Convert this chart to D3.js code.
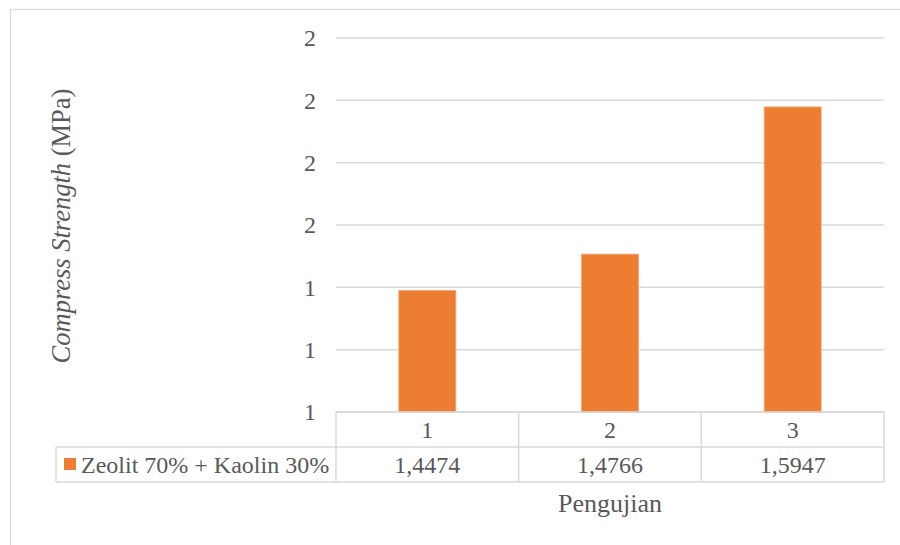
<!DOCTYPE html>
<html>
<head>
<meta charset="utf-8">
<script src="https://cdn.jsdelivr.net/npm/d3@7"></script>
<style>
  html, body { margin: 0; padding: 0; background: #fff; }
  svg { display: block; }
  svg text { font-family: "Liberation Serif", "DejaVu Serif", "Noto Serif", serif !important; }
</style>
</head>
<body>
<svg id="chart" width="900" height="545"></svg>
<script>
const categories = ["1", "2", "3"];
const seriesName = "Zeolit 70% + Kaolin 30%";
const values = [1.4474, 1.4766, 1.5947];
const valueLabels = ["1,4474", "1,4766", "1,5947"];
const yTicks = [1.35, 1.40, 1.45, 1.50, 1.55, 1.60, 1.65];
const yTitleItalic = "Compress Strength";
const yTitleNormal = " (MPa)";
const xTitle = "Pengujian";

const svg = d3.select("#chart");
const plot = { left: 336, right: 884, top: 38, bottom: 412 };
const grid = "#d9d9d9";
const orange = "#ED7D31";
const txt = "#595959";

// outer chart border (clipped by viewport)
svg.append("rect").attr("x", 10.5).attr("y", 9.5).attr("width", 1000).attr("height", 1000)
  .attr("fill", "none").attr("stroke", grid).attr("stroke-width", 1.2);

const y = d3.scaleLinear().domain([1.35, 1.65]).range([plot.bottom, plot.top]);
const x = d3.scaleBand().domain(categories).range([plot.left, plot.right]).padding(0);
const barW = x.bandwidth() * 0.312;

// gridlines
svg.append("g").selectAll("line").data(yTicks).join("line")
  .attr("x1", plot.left).attr("x2", plot.right)
  .attr("y1", d => y(d)).attr("y2", d => y(d))
  .attr("stroke", grid).attr("stroke-width", 1.5);

// y tick labels
const yAxis = d3.axisLeft(y).tickValues(yTicks).tickSize(0).tickPadding(0)
  .tickFormat(d => d3.format(".0f")(d));
const ga = svg.append("g").attr("transform", `translate(316,0)`).call(yAxis)
  .attr("font-family", null).attr("font-size", 24);
ga.select(".domain").remove();
ga.selectAll("text").attr("fill", txt).attr("dy", "0.33em");

// bars
svg.append("g").selectAll("rect").data(values).join("rect")
  .attr("x", (d, i) => x(categories[i]) + (x.bandwidth() - barW) / 2)
  .attr("width", barW)
  .attr("y", d => y(d))
  .attr("height", d => y(1.35) - y(d))
  .attr("fill", orange)
  .attr("stroke", "#f3a46f").attr("stroke-width", 0.8);

// data table
const row1 = { top: plot.bottom, bottom: 447 };
const row2 = { top: 447, bottom: 482 };
const legendLeft = 56;
const tg = svg.append("g").attr("stroke", grid).attr("stroke-width", 1.5).attr("fill", "none");
tg.append("line").attr("x1", plot.left).attr("x2", plot.right).attr("y1", row1.top).attr("y2", row1.top);
tg.append("line").attr("x1", legendLeft).attr("x2", plot.right).attr("y1", row2.top).attr("y2", row2.top);
tg.append("line").attr("x1", legendLeft).attr("x2", plot.right).attr("y1", row2.bottom).attr("y2", row2.bottom);
const colEdges = categories.map(c => x(c)).concat([plot.right]);
tg.selectAll("line.v").data(colEdges).join("line").attr("class", "v")
  .attr("x1", d => d).attr("x2", d => d).attr("y1", row1.top).attr("y2", row2.bottom);
tg.append("line").attr("x1", legendLeft).attr("x2", legendLeft).attr("y1", row2.top).attr("y2", row2.bottom);

// category labels
svg.append("g").selectAll("text").data(categories).join("text")
  .attr("x", d => x(d) + x.bandwidth() / 2).attr("y", 438)
  .attr("text-anchor", "middle").attr("font-size", 24).attr("fill", txt).text(d => d);
// values
svg.append("g").selectAll("text").data(valueLabels).join("text")
  .attr("x", (d, i) => x(categories[i]) + x.bandwidth() / 2).attr("y", 473)
  .attr("text-anchor", "middle").attr("font-size", 24).attr("fill", txt).text(d => d);

// legend key
svg.append("rect").attr("x", 64).attr("y", 458).attr("width", 12).attr("height", 12).attr("fill", orange);
svg.append("text").attr("x", 81).attr("y", 473).attr("font-size", 24).attr("fill", txt).text(seriesName);

// x title
svg.append("text").attr("x", (plot.left + plot.right) / 2).attr("y", 512)
  .attr("text-anchor", "middle").attr("font-size", 26).attr("fill", txt).text(xTitle);

// y title
const yt = svg.append("text").attr("transform", `translate(70,226) rotate(-90)`)
  .attr("text-anchor", "middle").attr("font-size", 26.5).attr("fill", txt);
yt.append("tspan").attr("font-style", "italic").text(yTitleItalic);
yt.append("tspan").text(yTitleNormal);
</script>
</body>
</html>
